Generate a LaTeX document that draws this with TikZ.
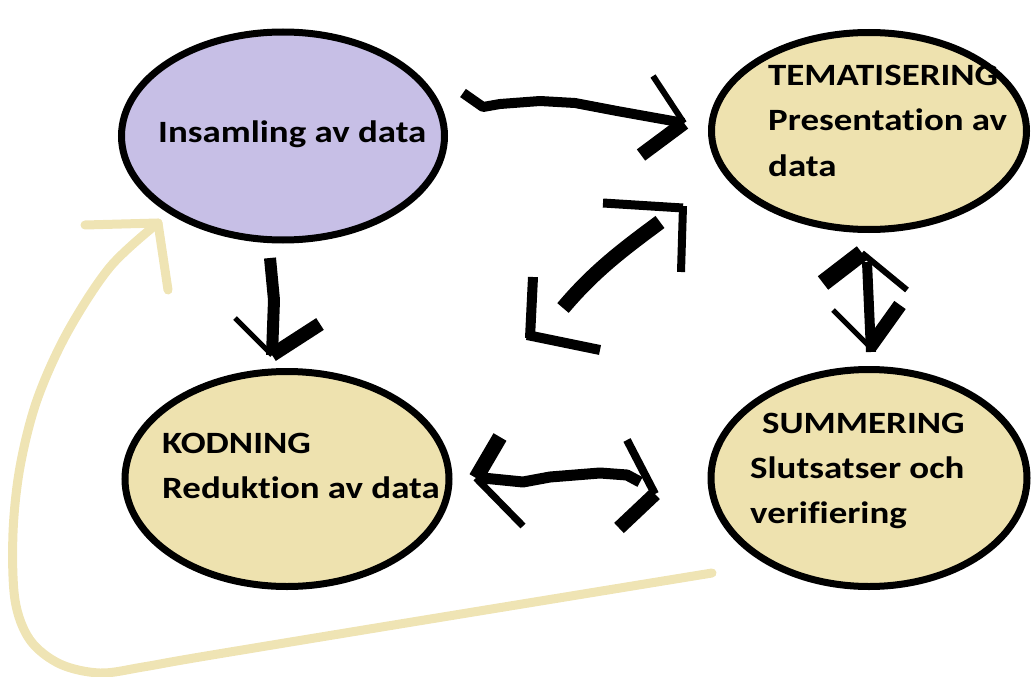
\documentclass[tikz,border=0pt]{standalone}
\usepackage{fontspec}
\setmainfont{Carlito}[FakeStretch=1.19, Ligatures=NoCommon]
\usetikzlibrary{shapes.geometric}
\definecolor{lav}{RGB}{199,191,230}
\definecolor{sand}{RGB}{238,226,175}
\definecolor{sandline}{RGB}{239,228,180}
\begin{document}
\begin{tikzpicture}[x=1pt,y=-1pt,
  bubble/.style={ellipse, draw=black, line width=7pt, inner sep=0pt},
  lbl/.style={anchor=base west, inner sep=0pt, font=\fontsize{31}{37}\selectfont\bfseries},
  ink/.style={draw=black, line width=9pt, line join=round, line cap=butt},
  fb/.style={draw=sandline, line width=9pt, line join=round, line cap=round}
]
\useasboundingbox (0,0) rectangle (1031,677);
% ellipses
\node[bubble, fill=lav, minimum width=323pt, minimum height=208pt] (ins) at (283,136) {};
\node[bubble, fill=sand, minimum width=315pt, minimum height=197pt] (tem) at (869,131) {};
\node[bubble, fill=sand, minimum width=324pt, minimum height=215pt] (kod) at (287,479) {};
\node[bubble, fill=sand, minimum width=316pt, minimum height=217pt] (sum) at (869,478) {};
% texts
\node[lbl] (t1) at (158,142) {Insamling av data};
\node[lbl] (t2a) at (768,85) {TEMATISERING};
\node[lbl] (t2b) at (768,130) {Presentation av};
\node[lbl] (t2c) at (768,176) {data};
\node[lbl] (t3a) at (162,453) {KODNING};
\node[lbl] (t3b) at (162,498) {Reduktion av data};
\node[lbl] (t4a) at (762,433) {SUMMERING};
\node[lbl] (t4b) at (750,478) {Slutsatser och};
\node[lbl] (t4c) at (750,523) {verifiering};
% feedback curve
\coordinate (fbS) at (712,573);
\coordinate (fbT) at (158,223);
\draw[fb] plot[smooth, tension=0.55] coordinates {(fbS) (400,624) (200,657) (143,667) (100,673) (60,664) (30,640) (15,600) (13,533) (20,467) (37,400) (67,333) (110,267) (fbT)};
\draw[fb] (85,225) -- (fbT) -- (168,290);
% arrow A: Insamling -> Tematisering
\coordinate (aS) at (463,93);
\coordinate (aE) at (684,123);
\draw[ink, line width=10pt] (aS) -- (483,107) -- (500,104) -- (540,101) -- (575,103) -- (617,111) -- (aE);
\draw[ink, line width=6pt] (653,76) -- (aE);
\draw[ink, line width=14pt] (aE) -- (641,155);
% arrow B: diagonal double
\coordinate (bS) at (563,308);
\coordinate (bE) at (660,222);
\draw[ink, line width=15pt] (bS) .. controls (595,270) and (625,248) .. (bE);
\draw[ink, line width=9pt] (603,203) -- (683,208);
\draw[ink, line width=8pt] (683,206) -- (681,272);
\draw[ink, line width=10pt] (533,277) -- (530,338);
\draw[ink, line width=10pt] (527,335) -- (600,350);
% arrow C: horizontal double bottom
\coordinate (cS) at (483,478);
\coordinate (cE) at (640,482);
\draw[ink, line width=11pt] (cS) -- (523,482) -- (550,477) -- (600,473) -- (627,475) -- (cE);
\draw[ink, line width=15pt] (500,437) -- (476,478);
\draw[ink, line width=7pt] (476,478) -- (523,526);
\draw[ink, line width=8pt] (627,440) -- (655,494);
\draw[ink, line width=14pt] (655,494) -- (619,528);
% arrow D: vertical double right
\coordinate (dS) at (867,262);
\coordinate (dE) at (871,352);
\draw[ink, line width=10pt] (dS) -- (dE);
\draw[ink, line width=17pt] (823,283) -- (862,253);
\draw[ink, line width=6pt] (862,253) -- (907,290);
\draw[ink, line width=5pt] (833,310) -- (870,347);
\draw[ink, line width=14pt] (870,347) -- (900,305);
% arrow E: down
\coordinate (eS) at (270,258);
\coordinate (eE) at (272,355);
\draw[ink, line width=12pt] (eS) -- (274,300) -- (eE);
\draw[ink, line width=5pt] (235,318) -- (eE);
\draw[ink, line width=14pt] (eE) -- (320,324);
\end{tikzpicture}
\end{document}
